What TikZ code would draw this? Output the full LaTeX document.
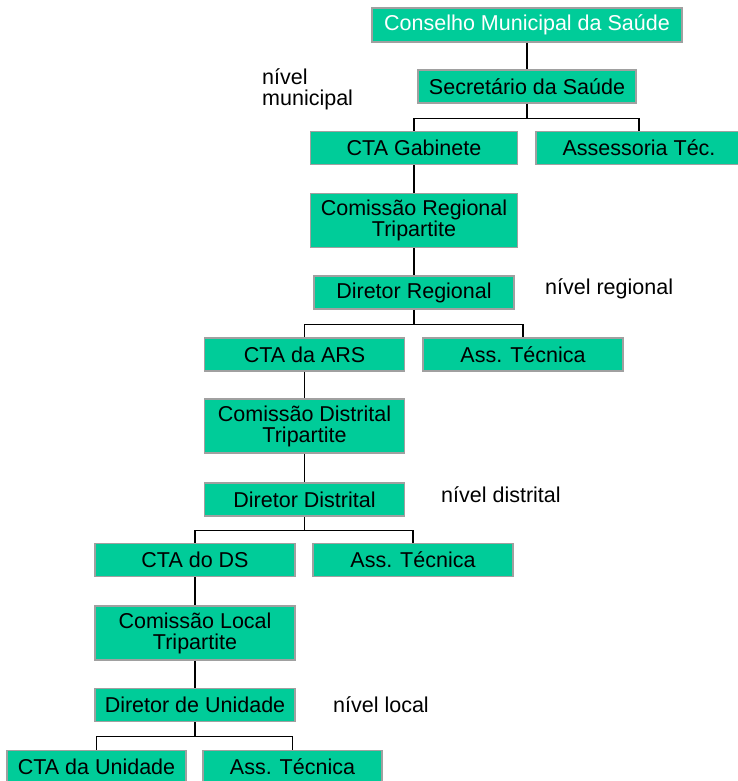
\documentclass[tikz,border=0pt]{standalone}
\usepackage{fontspec}
\setmainfont{Liberation Sans}
\definecolor{boxgreen}{HTML}{00CC99}
\definecolor{boxline}{HTML}{A0A0A0}
\tikzset{
    orgbox/.style={draw=boxline, line width=1.5pt, fill=boxgreen, inner sep=0pt,
        minimum width=200pt, minimum height=33pt, align=center,
        font=\fontsize{21.5}{21}\selectfont},
    tallbox/.style={orgbox, minimum height=54pt},
    levelnote/.style={anchor=west, align=left, inner sep=0pt,
        font=\fontsize{21.5}{21}\selectfont},
    link/.style={line width=1.3pt, black},
}
\begin{document}
\begin{tikzpicture}[x=1pt, y=-1pt]
    \useasboundingbox (0,0) rectangle (737,781);
    % municipal
    \node[orgbox, minimum width=310pt, minimum height=34pt, text=white] (cms) at (527,25) {Conselho Municipal da Saúde};
    \node[orgbox, minimum width=218pt] (sec) at (527,86.5) {Secretário da Saúde};
    \node[orgbox, minimum width=207pt] (gab) at (414,148) {CTA Gabinete};
    \node[orgbox, minimum width=206pt] (asst) at (639,148) {Assessoria Téc.};
    \node[levelnote] (nmun) at (262,89) {nível\\municipal};
    % regional
    \node[tallbox, minimum width=207pt] (crt) at (414,220.5) {Comissão Regional\\Tripartite};
    \node[orgbox] (dreg) at (414,292.5) {Diretor Regional};
    \node[orgbox] (ars) at (304.5,354.5) {CTA da ARS};
    \node[orgbox] (atreg) at (523,354.5) {Ass. Técnica};
    \node[levelnote] (nreg) at (545,289) {nível regional};
    % distrital
    \node[tallbox] (cdt) at (304.5,426) {Comissão Distrital\\Tripartite};
    \node[orgbox] (ddis) at (304.5,499.5) {Diretor Distrital};
    \node[orgbox] (ds) at (195,560) {CTA do DS};
    \node[orgbox] (atdis) at (413,560) {Ass. Técnica};
    \node[levelnote] (ndis) at (441,495) {nível distrital};
    % local
    \node[tallbox] (clt) at (195,633) {Comissão Local\\Tripartite};
    \node[orgbox] (duni) at (195,705) {Diretor de Unidade};
    \node[orgbox, minimum width=179pt] (cuni) at (96.5,767) {CTA da Unidade};
    \node[orgbox, minimum width=179pt] (atloc) at (292.5,767) {Ass. Técnica};
    \node[levelnote] (nloc) at (333,705) {nível local};

    \draw[link] (cms) -- (sec);
    \draw[link] (sec.south) -- ++(0,14.5) -| (gab.north);
    \draw[link] (sec.south) ++(0,14.5) -| (asst.north);
    \draw[link] (gab) -- (crt);
    \draw[link] (crt) -- (dreg);
    \draw[link] (dreg.south) -- ++(0,14.5) -| (ars.north);
    \draw[link] (dreg.south) ++(0,14.5) -| (atreg.north);
    \draw[link] (ars) -- (cdt);
    \draw[link] (cdt) -- (ddis);
    \draw[link] (ddis.south) -- ++(0,14) -| (ds.north);
    \draw[link] (ddis.south) ++(0,14) -| (atdis.north);
    \draw[link] (ds) -- (clt);
    \draw[link] (clt) -- (duni);
    \draw[link] (duni.south) -- ++(0,14) -| (cuni.north);
    \draw[link] (duni.south) ++(0,14) -| (atloc.north);
\end{tikzpicture}
\end{document}
